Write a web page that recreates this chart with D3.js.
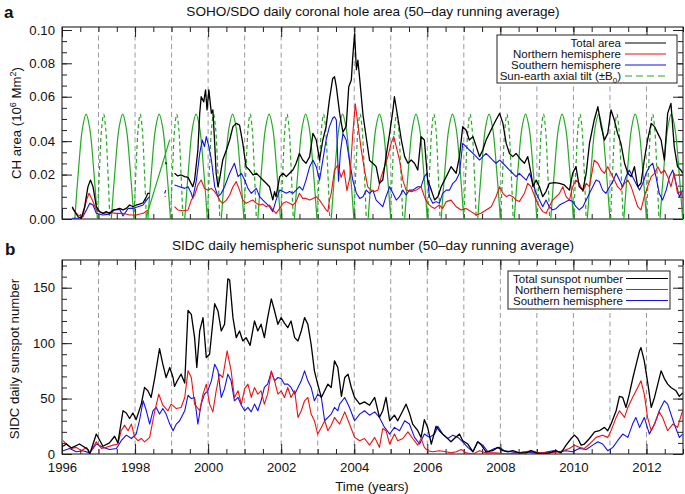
<!DOCTYPE html>
<html><head><meta charset="utf-8">
<script src="https://cdn.jsdelivr.net/npm/d3@7"></script>
<style>body{margin:0;background:#fff}svg{display:block}text{font-family:"Liberation Sans",Arial,Helvetica,sans-serif;fill:#111}</style>
</head><body><svg id="c" width="685" height="494"></svg>
<script>
// ---------------- DATA ----------------
const xMajorYears = [1996,1998,2000,2002,2004,2006,2008,2010,2012];
const gridYears = [1997,1998,1999,2000,2001,2002,2003,2004,2005,2006,2007,2008,2009,2010,2011,2012];
const yTickValsA = [0,0.0235,0.0412,0.0647,0.0824,0.1];
const yTickLabelsA = ["0.00","0.02","0.04","0.06","0.08","0.10"];
const yTickValsB = [0,50,100,150];

// Panel a: coronal hole area (10^6 Mm^2); null = data gap
const chTotal = [[1996.28,0.0065],[1996.35,0.0039],[1996.44,0.0012],[1996.53,0.0004],[1996.62,0.0065],[1996.71,0.017],[1996.78,0.0206],[1996.85,0.017],[1996.94,0.0065],[1997.03,0.0039],[1997.12,0.003],[1997.21,0.0039],[1997.30,0.003],[1997.40,0.0048],[1997.49,0.0051],[1997.58,0.0056],[1997.67,0.0048],[1997.76,0.0056],[1997.85,0.0074],[1997.94,0.0065],[1998.03,0.0074],[1998.12,0.0079],[1998.22,0.0086],[1998.31,0.0118],[1998.35,0.0136],[1998.40,0.0136],null,[1998.83,0.030],[1998.86,0.029],null,[1999.08,0.0242],[1999.17,0.0228],[1999.26,0.0233],[1999.36,0.0224],[1999.45,0.022],[1999.51,0.0198],[1999.58,0.0171],[1999.63,0.0206],[1999.72,0.0365],[1999.77,0.0559],[1999.81,0.0647],[1999.88,0.062],[1999.93,0.0683],[1999.97,0.0577],[2000.02,0.0683],[2000.09,0.0559],[2000.13,0.0577],[2000.18,0.04],[2000.22,0.0242],[2000.27,0.0171],[2000.31,0.0206],[2000.40,0.0312],[2000.50,0.0365],[2000.59,0.0418],[2000.68,0.0489],[2000.77,0.0506],[2000.86,0.0497],[2000.95,0.04],[2001.00,0.033],[2001.04,0.0277],[2001.13,0.0259],[2001.23,0.0233],[2001.32,0.0242],[2001.41,0.0224],[2001.50,0.0206],[2001.59,0.0189],[2001.68,0.0171],[2001.77,0.0101],[2001.82,0.0145],[2001.86,0.0118],[2001.96,0.0224],[2002.05,0.0242],[2002.14,0.0224],[2002.23,0.0242],[2002.32,0.0259],[2002.41,0.0295],[2002.50,0.0347],[2002.59,0.0312],[2002.68,0.0295],[2002.78,0.033],[2002.87,0.0453],[2002.96,0.0418],[2003.05,0.0312],[2003.14,0.0418],[2003.23,0.0489],[2003.32,0.063],[2003.41,0.0744],[2003.46,0.0753],[2003.51,0.07],[2003.60,0.056],[2003.69,0.046],[2003.78,0.049],[2003.85,0.07],[2003.92,0.0735],[2003.96,0.086],[2004.01,0.098],[2004.06,0.079],[2004.10,0.084],[2004.15,0.074],[2004.24,0.055],[2004.33,0.043],[2004.42,0.031],[2004.51,0.0295],[2004.60,0.0277],[2004.69,0.0189],[2004.78,0.0206],[2004.87,0.033],[2004.97,0.0453],[2005.06,0.0577],[2005.10,0.0647],[2005.19,0.0541],[2005.29,0.0418],[2005.38,0.033],[2005.47,0.0295],[2005.56,0.0312],[2005.65,0.0295],[2005.74,0.0259],[2005.83,0.0436],[2005.92,0.0418],[2006.01,0.0206],[2006.11,0.0153],[2006.20,0.0101],[2006.29,0.0118],[2006.38,0.0171],[2006.52,0.0224],[2006.65,0.0277],[2006.79,0.0242],[2006.88,0.033],[2006.97,0.0489],[2007.06,0.0471],[2007.15,0.0418],[2007.25,0.0436],[2007.34,0.0383],[2007.43,0.033],[2007.52,0.0365],[2007.61,0.0418],[2007.70,0.0453],[2007.79,0.0489],[2007.88,0.0524],[2007.98,0.0559],[2008.07,0.0506],[2008.16,0.04],[2008.25,0.0347],[2008.34,0.033],[2008.43,0.0347],[2008.57,0.0312],[2008.66,0.0295],[2008.75,0.033],[2008.84,0.0242],[2008.89,0.0171],[2008.98,0.0206],[2009.07,0.0171],[2009.16,0.0118],[2009.25,0.0145],[2009.34,0.0189],[2009.48,0.0192],[2009.62,0.0189],[2009.75,0.018],[2009.89,0.0153],[2009.98,0.0242],[2010.07,0.0277],[2010.16,0.0171],[2010.26,0.0153],[2010.35,0.0242],[2010.44,0.04],[2010.57,0.0524],[2010.67,0.0594],[2010.76,0.0489],[2010.85,0.0418],[2010.94,0.0453],[2011.03,0.0577],[2011.12,0.0524],[2011.21,0.0453],[2011.30,0.04],[2011.40,0.0295],[2011.49,0.0242],[2011.58,0.0224],[2011.67,0.0277],[2011.76,0.0171],[2011.85,0.0189],[2011.94,0.0312],[2012.03,0.0418],[2012.13,0.0506],[2012.22,0.0489],[2012.31,0.0453],[2012.40,0.0418],[2012.49,0.0312],[2012.58,0.0559],[2012.67,0.0612],[2012.76,0.0383],[2012.85,0.0277],[2012.94,0.0259],[2012.99,0.0242]];

const chNorth = [[1996.28,0.0056],[1996.44,0.0021],[1996.57,0.0012],[1996.67,0.01],[1996.74,0.0136],[1996.83,0.01],[1996.94,0.0048],[1997.12,0.003],[1997.30,0.0034],[1997.49,0.003],[1997.67,0.003],[1997.85,0.0021],[1998.03,0.0021],[1998.22,0.003],[1998.35,0.0048],null,[1998.81,0.0118],[1998.84,0.012],null,[1999.08,0.0065],[1999.17,0.0048],[1999.31,0.0044],[1999.45,0.0048],[1999.54,0.01],[1999.63,0.0127],[1999.72,0.018],[1999.81,0.0206],[1999.90,0.0162],[1999.99,0.0153],[2000.09,0.0162],[2000.18,0.0145],[2000.27,0.0118],[2000.31,0.01],[2000.40,0.0083],[2000.50,0.01],[2000.59,0.0127],[2000.68,0.0171],[2000.77,0.0198],[2000.86,0.0153],[2000.95,0.01],[2001.04,0.0083],[2001.13,0.0092],[2001.23,0.01],[2001.32,0.0083],[2001.41,0.0074],[2001.50,0.0079],[2001.59,0.0065],[2001.68,0.0074],[2001.77,0.0048],[2001.86,0.003],[2001.96,0.0056],[2002.05,0.0083],[2002.14,0.0092],[2002.23,0.0083],[2002.32,0.0074],[2002.41,0.0092],[2002.50,0.0136],[2002.59,0.0109],[2002.68,0.0109],[2002.78,0.01],[2002.87,0.0109],[2002.96,0.0118],[2003.05,0.01],[2003.14,0.0074],[2003.23,0.0048],[2003.28,0.0039],[2003.32,0.01],[2003.37,0.0136],[2003.46,0.026],[2003.55,0.0285],[2003.64,0.022],[2003.72,0.026],[2003.80,0.015],[2003.88,0.022],[2003.96,0.045],[2004.03,0.061],[2004.10,0.05],[2004.19,0.037],[2004.28,0.026],[2004.37,0.017],[2004.46,0.0153],[2004.56,0.0145],[2004.65,0.0153],[2004.74,0.0224],[2004.83,0.0277],[2004.92,0.033],[2005.01,0.04],[2005.08,0.0436],[2005.15,0.0383],[2005.24,0.0312],[2005.33,0.0206],[2005.42,0.0153],[2005.56,0.0145],[2005.70,0.0153],[2005.83,0.0171],[2005.92,0.0118],[2006.01,0.0083],[2006.11,0.0065],[2006.20,0.0056],[2006.33,0.0074],[2006.42,0.0056],[2006.52,0.0092],[2006.65,0.01],[2006.79,0.0065],[2006.93,0.0048],[2007.06,0.0056],[2007.20,0.0039],[2007.34,0.0021],[2007.47,0.003],[2007.61,0.0048],[2007.75,0.0065],[2007.88,0.0118],[2007.98,0.0171],[2008.07,0.0136],[2008.16,0.0118],[2008.25,0.0127],[2008.34,0.0118],[2008.43,0.01],[2008.52,0.0092],[2008.66,0.0136],[2008.75,0.0189],[2008.84,0.0171],[2008.98,0.01],[2009.07,0.0065],[2009.16,0.0039],[2009.25,0.003],[2009.34,0.0065],[2009.43,0.01],[2009.53,0.0118],[2009.62,0.0136],[2009.71,0.0171],[2009.80,0.0118],[2009.89,0.01],[2009.98,0.0171],[2010.07,0.0206],[2010.16,0.0189],[2010.26,0.0145],[2010.35,0.0189],[2010.44,0.0171],[2010.57,0.0312],[2010.67,0.0295],[2010.76,0.0259],[2010.85,0.0242],[2010.94,0.0277],[2011.03,0.0242],[2011.12,0.0206],[2011.21,0.0171],[2011.30,0.0153],[2011.40,0.0189],[2011.49,0.0206],[2011.58,0.0171],[2011.67,0.0118],[2011.76,0.0065],[2011.85,0.0048],[2011.94,0.0118],[2012.03,0.0171],[2012.13,0.0224],[2012.22,0.0242],[2012.31,0.0277],[2012.40,0.0242],[2012.49,0.0259],[2012.58,0.0224],[2012.67,0.0171],[2012.76,0.0242],[2012.85,0.0136],[2012.94,0.0145],[2012.99,0.0118]];

const chSouth = [[1996.28,0.0004],[1996.44,0.0004],[1996.57,0.0012],[1996.67,0.0048],[1996.76,0.0083],[1996.85,0.0074],[1996.94,0.003],[1997.12,0.0021],[1997.30,0.0026],[1997.44,0.0048],[1997.58,0.0051],[1997.67,0.0016],[1997.81,0.0056],[1997.94,0.0056],[1998.08,0.0065],[1998.22,0.0074],[1998.35,0.0109],[1998.40,0.0118],null,[1998.81,0.0135],[1998.84,0.0153],null,[1999.08,0.018],[1999.22,0.0171],[1999.36,0.0162],[1999.45,0.0171],[1999.54,0.0136],[1999.58,0.0109],[1999.68,0.0206],[1999.77,0.0347],[1999.84,0.0418],[1999.90,0.0383],[1999.95,0.0436],[2000.02,0.0383],[2000.09,0.0312],[2000.18,0.0171],[2000.27,0.0118],[2000.36,0.0136],[2000.45,0.0171],[2000.59,0.0242],[2000.72,0.0295],[2000.82,0.0224],[2000.91,0.0242],[2001.00,0.0206],[2001.09,0.0162],[2001.18,0.0136],[2001.32,0.0162],[2001.41,0.0118],[2001.50,0.01],[2001.59,0.0083],[2001.68,0.0065],[2001.77,0.0039],[2001.86,0.01],[2001.96,0.0153],[2002.05,0.0145],[2002.14,0.0136],[2002.23,0.0145],[2002.32,0.0136],[2002.41,0.0153],[2002.50,0.0171],[2002.59,0.0153],[2002.68,0.0206],[2002.78,0.0277],[2002.87,0.0312],[2002.96,0.0277],[2003.05,0.0206],[2003.14,0.0312],[2003.23,0.0418],[2003.32,0.0489],[2003.41,0.0533],[2003.46,0.0541],[2003.51,0.0524],[2003.57,0.02],[2003.62,0.035],[2003.69,0.0453],[2003.78,0.0418],[2003.87,0.0312],[2003.96,0.0206],[2004.06,0.0136],[2004.15,0.0109],[2004.24,0.0118],[2004.33,0.0153],[2004.42,0.0136],[2004.51,0.0153],[2004.60,0.01],[2004.69,0.0083],[2004.78,0.0065],[2004.87,0.0118],[2004.97,0.0171],[2005.06,0.0136],[2005.15,0.01],[2005.24,0.0118],[2005.33,0.0153],[2005.42,0.0127],[2005.51,0.0153],[2005.60,0.0153],[2005.74,0.0171],[2005.83,0.0171],[2005.92,0.0224],[2005.99,0.0242],[2006.06,0.0118],[2006.15,0.0083],[2006.24,0.0092],[2006.33,0.0083],[2006.42,0.0136],[2006.52,0.0153],[2006.61,0.0153],[2006.70,0.0189],[2006.79,0.0206],[2006.88,0.0242],[2006.97,0.04],[2007.06,0.0383],[2007.15,0.0365],[2007.25,0.0347],[2007.34,0.033],[2007.43,0.0312],[2007.52,0.033],[2007.61,0.0347],[2007.70,0.033],[2007.79,0.0312],[2007.88,0.0295],[2007.98,0.0312],[2008.07,0.0295],[2008.16,0.0277],[2008.25,0.0259],[2008.34,0.0242],[2008.43,0.0224],[2008.52,0.0242],[2008.61,0.0224],[2008.71,0.0206],[2008.80,0.0242],[2008.89,0.0189],[2008.98,0.0136],[2009.07,0.01],[2009.16,0.0065],[2009.25,0.01],[2009.34,0.0065],[2009.43,0.0048],[2009.53,0.0056],[2009.62,0.0074],[2009.71,0.0083],[2009.80,0.0092],[2009.89,0.01],[2009.98,0.0092],[2010.07,0.0065],[2010.16,0.0048],[2010.26,0.0065],[2010.35,0.01],[2010.44,0.0136],[2010.53,0.0171],[2010.62,0.0206],[2010.71,0.0198],[2010.80,0.0153],[2010.89,0.0136],[2010.99,0.0171],[2011.08,0.0198],[2011.17,0.0242],[2011.26,0.0206],[2011.35,0.0171],[2011.44,0.0224],[2011.53,0.0259],[2011.62,0.0224],[2011.71,0.0189],[2011.81,0.0153],[2011.90,0.0189],[2011.99,0.0242],[2012.08,0.0277],[2012.17,0.0295],[2012.26,0.0224],[2012.35,0.0136],[2012.44,0.01],[2012.54,0.0153],[2012.63,0.0224],[2012.72,0.0259],[2012.81,0.0189],[2012.90,0.0118],[2012.99,0.0153]];

// Sun-earth axial tilt arcs (peaks of +B0 and -B0)
const tiltPosPeaks = [1996.66,1997.66,1998.66,1999.67,2000.67,2001.67,2002.67,2003.68,2004.69,2005.69,2006.69,2007.69,2008.69,2009.69,2010.69,2011.69,2012.68];
const tiltNegPeaks = [1997.14,1998.14,1999.14,2000.15,2001.15,2002.16,2003.16,2004.16,2005.16,2006.18,2007.17,2008.18,2009.18,2010.18,2011.19,2012.17];
const tiltPosShapeDt = [-0.31,-0.2,-0.1,0,0.1,0.2,0.31];
const tiltNegShapeDt = [-0.17,-0.11,-0.055,0,0.055,0.11,0.17];
const tiltShapeV = [0,0.028,0.048,0.0555,0.048,0.028,0];
const tiltGapSegment = [[1998.29,0],[1998.95,0.042]];

// Panel b: sunspot numbers
const ssTotal = [[1996.03,7],[1996.12,9],[1996.26,5.5],[1996.48,9],[1996.71,4],[1996.76,0],[1996.94,18],[1997.12,7],[1997.30,10],[1997.44,16],[1997.53,10],[1997.67,39],[1997.76,37],[1997.85,32],[1997.94,37],[1998.03,31],[1998.17,45],[1998.26,60],[1998.35,57],[1998.44,51],[1998.54,69],[1998.67,95],[1998.76,81],[1998.85,69],[1998.95,78],[1999.04,69],[1999.08,61],[1999.17,67],[1999.26,72],[1999.36,64],[1999.45,129.6],[1999.54,126],[1999.63,105],[1999.69,78],[1999.77,111],[1999.86,123],[1999.95,87],[2000.04,90],[2000.18,135.6],[2000.27,129],[2000.36,111],[2000.45,117],[2000.54,158],[2000.59,157],[2000.68,123],[2000.77,105],[2000.86,111],[2000.95,102],[2001.04,105],[2001.15,98],[2001.27,120],[2001.36,111],[2001.45,117],[2001.54,105],[2001.63,123],[2001.73,140],[2001.82,129],[2001.91,117],[2002.00,123],[2002.09,118],[2002.18,114],[2002.27,120],[2002.37,105],[2002.46,102],[2002.55,111],[2002.64,123],[2002.73,117],[2002.82,99],[2002.91,75],[2003.00,63],[2003.10,51],[2003.19,57],[2003.28,63],[2003.37,60],[2003.46,84],[2003.55,78],[2003.65,52],[2003.74,69],[2003.83,72],[2003.92,60],[2004.01,51],[2004.15,45],[2004.28,47],[2004.42,44],[2004.56,51],[2004.69,33],[2004.78,39],[2004.87,51],[2004.97,30],[2005.10,35],[2005.19,30],[2005.33,39],[2005.42,45],[2005.51,37],[2005.60,27],[2005.74,21],[2005.83,15],[2005.92,31],[2006.01,24],[2006.11,9],[2006.24,25],[2006.33,21],[2006.42,18],[2006.52,15],[2006.65,11],[2006.74,14],[2006.88,18],[2006.97,12],[2007.11,9],[2007.25,2],[2007.38,11],[2007.48,8],[2007.61,2],[2007.79,3],[2007.93,6],[2008.07,3],[2008.21,2],[2008.34,3],[2008.52,1],[2008.71,1],[2008.84,3],[2008.98,1],[2009.16,0],[2009.34,1],[2009.52,3],[2009.66,1],[2009.80,8],[2009.94,14],[2010.03,17],[2010.12,14],[2010.21,8],[2010.30,9],[2010.44,14],[2010.58,20],[2010.71,21],[2010.85,24],[2010.94,21],[2011.03,27],[2011.17,39],[2011.26,52],[2011.35,51],[2011.44,42],[2011.53,54],[2011.63,69],[2011.72,81],[2011.81,93],[2011.85,96],[2011.94,84],[2012.04,63],[2012.13,42],[2012.22,51],[2012.31,63],[2012.40,75],[2012.49,68],[2012.58,63],[2012.67,60],[2012.81,57],[2012.90,52],[2012.99,55]];

const ssNorth = [[1996.03,12],[1996.12,9],[1996.26,5],[1996.39,6],[1996.53,3],[1996.67,6],[1996.76,1],[1996.94,11],[1997.08,5],[1997.21,6],[1997.40,8],[1997.53,9],[1997.62,21],[1997.71,26],[1997.81,21],[1997.90,27],[1997.99,15],[1998.08,12],[1998.17,14],[1998.26,11],[1998.40,15],[1998.54,39],[1998.65,54],[1998.76,44],[1998.90,39],[1998.99,45],[1999.13,41],[1999.26,42],[1999.36,51],[1999.45,75],[1999.54,69],[1999.63,45],[1999.77,39],[1999.86,54],[1999.95,63],[2000.04,45],[2000.13,38],[2000.22,57],[2000.31,72],[2000.40,69],[2000.52,93],[2000.63,75],[2000.72,51],[2000.82,57],[2000.91,45],[2001.00,59],[2001.09,63],[2001.18,51],[2001.27,60],[2001.36,54],[2001.45,57],[2001.54,45],[2001.63,54],[2001.73,75],[2001.82,66],[2001.91,54],[2002.00,57],[2002.09,51],[2002.18,60],[2002.27,51],[2002.37,57],[2002.46,33],[2002.55,39],[2002.64,48],[2002.73,51],[2002.82,36],[2002.91,30],[2003.00,18],[2003.10,24],[2003.19,30],[2003.28,21],[2003.37,26],[2003.46,33],[2003.55,29],[2003.60,27],[2003.74,38],[2003.87,27],[2004.01,15],[2004.15,12],[2004.28,14],[2004.42,8],[2004.56,15],[2004.69,6],[2004.78,23],[2004.87,21],[2004.97,9],[2005.10,18],[2005.19,12],[2005.33,14],[2005.47,20],[2005.60,14],[2005.74,8],[2005.83,14],[2005.92,6],[2006.01,3],[2006.15,2],[2006.33,3],[2006.52,2],[2006.65,1],[2006.79,2],[2006.93,4],[2007.06,1],[2007.25,0],[2007.43,3],[2007.61,1],[2007.88,1],[2008.16,0],[2008.52,1],[2008.84,3],[2009.07,1],[2009.34,1],[2009.62,2],[2009.89,5],[2010.03,8],[2010.16,6],[2010.30,5],[2010.44,9],[2010.62,15],[2010.80,17],[2010.94,15],[2011.03,21],[2011.17,33],[2011.26,39],[2011.40,33],[2011.49,42],[2011.62,51],[2011.76,60],[2011.85,66],[2011.94,54],[2012.03,33],[2012.13,21],[2012.22,27],[2012.35,38],[2012.44,33],[2012.58,21],[2012.72,27],[2012.85,24],[2012.99,39]];

const ssSouth = [[1996.03,3],[1996.21,5],[1996.39,2],[1996.57,3],[1996.76,1],[1996.94,9],[1997.12,6],[1997.30,4],[1997.49,5],[1997.62,12],[1997.76,17],[1997.90,14],[1998.03,18],[1998.12,30],[1998.22,48],[1998.31,39],[1998.40,27],[1998.49,39],[1998.58,42],[1998.67,36],[1998.76,41],[1998.85,36],[1998.95,27],[1999.04,21],[1999.13,27],[1999.22,30],[1999.36,39],[1999.45,53],[1999.54,50],[1999.63,51],[1999.72,27],[1999.81,45],[1999.90,54],[1999.99,57],[2000.09,66],[2000.18,81],[2000.27,75],[2000.36,51],[2000.45,59],[2000.54,72],[2000.63,66],[2000.72,48],[2000.82,51],[2000.91,44],[2001.00,39],[2001.09,42],[2001.18,38],[2001.27,45],[2001.36,39],[2001.45,48],[2001.54,60],[2001.63,63],[2001.73,74],[2001.82,66],[2001.91,69],[2002.00,68],[2002.09,63],[2002.18,63],[2002.27,60],[2002.37,54],[2002.46,60],[2002.55,66],[2002.64,75],[2002.73,66],[2002.82,60],[2002.91,48],[2003.00,54],[2003.10,51],[2003.19,30],[2003.28,33],[2003.37,36],[2003.46,42],[2003.55,39],[2003.60,45],[2003.74,51],[2003.87,42],[2004.01,30],[2004.15,36],[2004.28,39],[2004.42,35],[2004.56,38],[2004.69,33],[2004.83,24],[2004.97,18],[2005.10,24],[2005.24,21],[2005.38,30],[2005.51,27],[2005.65,15],[2005.79,9],[2005.92,18],[2006.06,15],[2006.20,18],[2006.29,25],[2006.42,18],[2006.56,14],[2006.70,17],[2006.84,15],[2006.97,11],[2007.11,6],[2007.25,2],[2007.38,11],[2007.52,8],[2007.66,2],[2007.84,5],[2007.98,6],[2008.11,3],[2008.29,2],[2008.48,1],[2008.71,2],[2008.89,1],[2009.16,1],[2009.44,3],[2009.62,2],[2009.80,3],[2009.98,2],[2010.16,5],[2010.35,4],[2010.53,8],[2010.67,11],[2010.80,9],[2010.94,3],[2011.08,6],[2011.21,12],[2011.35,18],[2011.49,15],[2011.62,27],[2011.71,33],[2011.81,24],[2011.94,33],[2012.08,18],[2012.22,27],[2012.35,39],[2012.49,48],[2012.58,45],[2012.67,36],[2012.76,27],[2012.90,15],[2012.99,18]];

// ---------------- DRAWING ----------------
const C = {black:"#000", red:"#ee1111", blue:"#1111ee", green:"#22aa22", grid:"#9a9a9a"};
const svg = d3.select("#c");
const x = d3.scaleLinear().domain([1996,2013]).range([62,683]);
const yA = d3.scaleLinear().domain([0,0.1016]).range([219,27]);
const yB = d3.scaleLinear().domain([0,175]).range([454,260]);
const xMinor = d3.range(1996,2013.01,0.5);

function panel(y, id, yMajor, yMinor, yFmt, xLabels){
  const [yb,yt] = y.range(), [xl,xr] = x.range();
  const g = svg.append("g");
  svg.append("clipPath").attr("id",id).append("rect").attr("x",xl).attr("y",yt).attr("width",xr-xl).attr("height",yb-yt);
  g.selectAll("line.grid").data(gridYears).enter().append("line")
    .attr("x1",d=>x(d)).attr("x2",d=>x(d)).attr("y1",yb).attr("y2",yt)
    .attr("stroke",C.grid).attr("stroke-width",1).attr("stroke-dasharray","5,3.5");
  const ax = (gen, tr) => { const a = g.append("g").attr("transform",tr).call(gen); a.select(".domain").remove(); a.selectAll("line").attr("stroke","#222"); return a; };
  ax(d3.axisBottom(x).tickValues(xMinor).tickSize(-5).tickFormat(""), `translate(0,${yb})`);
  const bx = ax(d3.axisBottom(x).tickValues(xMajorYears).tickSize(-10).tickPadding(9).tickFormat(xLabels? d3.format("d"):""), `translate(0,${yb})`);
  bx.selectAll("text").attr("font-size",13.2).attr("fill","#111").attr("font-family",null);
  ax(d3.axisTop(x).tickValues(xMinor).tickSize(-5).tickFormat(""), `translate(0,${yt})`);
  ax(d3.axisTop(x).tickValues(xMajorYears).tickSize(-10).tickFormat(""), `translate(0,${yt})`);
  ax(d3.axisLeft(y).tickValues(yMinor).tickSize(-5).tickFormat(""), `translate(${xl},0)`);
  const ly = ax(d3.axisLeft(y).tickValues(yMajor).tickSize(-10).tickPadding(7).tickFormat(yFmt), `translate(${xl},0)`);
  ly.selectAll("text").attr("font-size",13.2).attr("fill","#111").attr("font-family",null);
  ax(d3.axisRight(y).tickValues(yMinor).tickSize(-5).tickFormat(""), `translate(${xr},0)`);
  ax(d3.axisRight(y).tickValues(yMajor).tickSize(-10).tickFormat(""), `translate(${xr},0)`);
  g.append("rect").attr("x",xl).attr("y",yt).attr("width",xr-xl).attr("height",yb-yt).attr("fill","none").attr("stroke","#222").attr("stroke-width",1.1);
  return g;
}

// Panel a
const gA = panel(yA,"clipA", yTickValsA, d3.range(0,0.1001,0.1/17), (d,i)=>yTickLabelsA[i], false);
const lineA = d3.line().defined(d=>d!==null).x(d=>x(d[0])).y(d=>yA(d[1]));
const dA = gA.append("g").attr("clip-path","url(#clipA)");
const arc = d3.line().x(d=>x(d[0])).y(d=>yA(d[1])).curve(d3.curveCatmullRom.alpha(0.5));
tiltPosPeaks.forEach(p=>{
  dA.append("path").attr("d",arc(tiltPosShapeDt.map((dt,i)=>[p+dt,tiltShapeV[i]]))).attr("fill","none").attr("stroke",C.green).attr("stroke-width",1.2);
});
tiltNegPeaks.forEach(p=>{
  dA.append("path").attr("d",arc(tiltNegShapeDt.map((dt,i)=>[p+dt,tiltShapeV[i]]))).attr("fill","none").attr("stroke",C.green).attr("stroke-width",1.2).attr("stroke-dasharray","4,3");
});
dA.append("path").attr("d",lineA(tiltGapSegment)).attr("fill","none").attr("stroke",C.green).attr("stroke-width",1.2);
[[chSouth,C.blue,1.1],[chNorth,C.red,1.1],[chTotal,C.black,1.3]].forEach(([d,c,w])=>{
  dA.append("path").attr("d",lineA(d)).attr("fill","none").attr("stroke",c).attr("stroke-width",w).attr("stroke-linejoin","round");
});

// Panel b
const gB = panel(yB,"clipB", yTickValsB, d3.range(0,171,10), d3.format("d"), true);
const lineB = d3.line().x(d=>x(d[0])).y(d=>yB(d[1]));
const dB = gB.append("g").attr("clip-path","url(#clipB)");
[[ssSouth,C.blue,1.1],[ssNorth,C.red,1.1],[ssTotal,C.black,1.3]].forEach(([d,c,w])=>{
  dB.append("path").attr("d",lineB(d)).attr("fill","none").attr("stroke",c).attr("stroke-width",w).attr("stroke-linejoin","round");
});

// Titles and labels
svg.append("text").attr("x",373).attr("y",16).attr("text-anchor","middle").attr("font-size",13.6).text("SOHO/SDO daily coronal hole area (50\u2013day running average)");
svg.append("text").attr("x",373).attr("y",250).attr("text-anchor","middle").attr("font-size",13.6).text("SIDC daily hemispheric sunspot number (50\u2013day running average)");
svg.append("text").attr("x",4).attr("y",18).attr("font-size",17).attr("font-weight","bold").text("a");
svg.append("text").attr("x",5).attr("y",255).attr("font-size",17).attr("font-weight","bold").text("b");
svg.append("text").attr("x",372).attr("y",491).attr("text-anchor","middle").attr("font-size",13.2).text("Time (years)");
const ta = svg.append("text").attr("transform","translate(21,123) rotate(-90)").attr("text-anchor","middle").attr("font-size",13.2);
ta.append("tspan").text("CH area (10");
ta.append("tspan").attr("dy",-5).attr("font-size",9).text("6");
ta.append("tspan").attr("dy",5).text(" Mm");
ta.append("tspan").attr("dy",-5).attr("font-size",9).text("2");
ta.append("tspan").attr("dy",5).text(")");
svg.append("text").attr("transform","translate(19,359) rotate(-90)").attr("text-anchor","middle").attr("font-size",13.2).text("SIDC daily sunspot number");

// Legends
function legend(x0,y0,w,h,tx,lx1,lx2,rows){
  svg.append("rect").attr("x",x0).attr("y",y0).attr("width",w).attr("height",h).attr("fill","#fff").attr("stroke","#222").attr("stroke-width",1);
  rows.forEach(r=>{
    const t = svg.append("text").attr("x",tx).attr("y",r.y+4).attr("text-anchor","end").attr("font-size",11.5);
    if(r.sub){ t.append("tspan").text(r.label); t.append("tspan").attr("dy",3).attr("font-size",8).text(r.sub); t.append("tspan").attr("dy",-3).text(")"); }
    else t.text(r.label);
    svg.append("line").attr("x1",lx1).attr("x2",lx2).attr("y1",r.y).attr("y2",r.y).attr("stroke",r.c).attr("stroke-width",1.1).attr("stroke-dasharray",r.dash||null);
  });
}
legend(497,35,180,48,621,625,666,[
  {label:"Total area",c:C.black,y:43},
  {label:"Northern hemisphere",c:C.red,y:54},
  {label:"Southern hemisphere",c:C.blue,y:65},
  {label:"Sun-earth axial tilt (\u00b1B",sub:"0",c:C.green,y:76,dash:"7,4"}
]);
legend(508,271,162,38,623,626,668,[
  {label:"Total sunspot number",c:C.black,y:278.5},
  {label:"Northern hemisphere",c:C.red,y:289.5},
  {label:"Southern hemisphere",c:C.blue,y:300.5}
]);
</script></body></html>
